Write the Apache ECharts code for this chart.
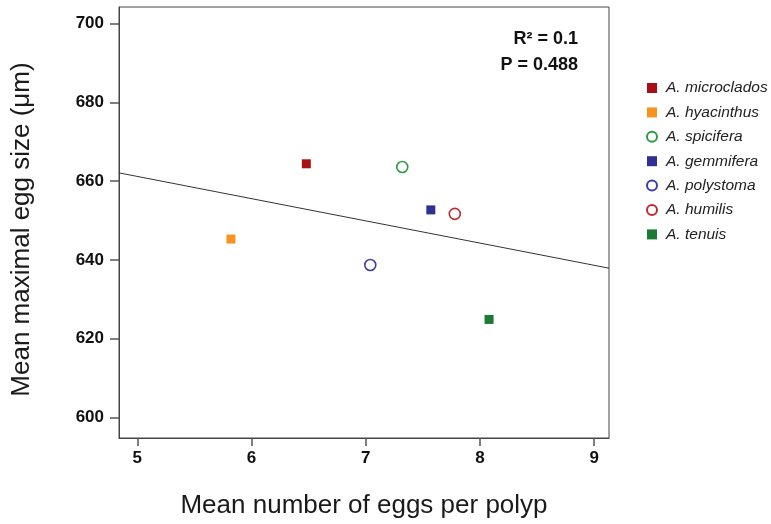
<!DOCTYPE html>
<html>
<head>
<meta charset="utf-8">
<script src="https://cdn.jsdelivr.net/npm/echarts@6/dist/echarts.min.js"></script>
<style>
  html, body { margin: 0; padding: 0; background: #fff; }
  #chart { width: 771px; height: 524px; }
</style>
</head>
<body>
<div id="chart"></div>
<script>
// species
const species = ['A. microclados', 'A. hyacinthus', 'A. spicifera', 'A. gemmifera', 'A. polystoma', 'A. humilis', 'A. tenuis'];
const eggsPerPolyp = [6.48, 5.82, 7.32, 7.57, 7.04, 7.78, 8.08];
const eggSize = [664.4, 645.3, 663.6, 652.7, 638.7, 651.7, 624.9];
const filled = [true, true, false, true, false, false, true];
const colors = ['#a50f15', '#f7931e', '#2f9a45', '#2e3192', '#3b40a8', '#be2a2e', '#1b7a34'];

// regression line ends
const fitX = [4.84, 9.13];
const fitY = [662.1, 637.9];

const xTicks = [5, 6, 7, 8, 9];
const yTicks = [600, 620, 640, 660, 680, 700];

const chart = echarts.init(document.getElementById('chart'));

const series = species.map((name, i) => ({
  name,
  type: 'scatter',
  symbol: filled[i] ? 'rect' : 'circle',
  symbolSize: filled[i] ? 9 : 11,
  itemStyle: filled[i]
    ? { color: colors[i], opacity: 1 }
    : { color: '#fff', borderColor: colors[i], borderWidth: 1.6, opacity: 1 },
  data: [[eggsPerPolyp[i], eggSize[i]]],
  z: 3
}));

series.push({
  name: 'fit',
  type: 'line',
  symbol: 'none',
  lineStyle: { color: '#333', width: 1 },
  data: fitX.map((x, i) => [x, fitY[i]]),
  silent: true,
  z: 2
});

chart.setOption({
  animation: false,
  textStyle: { fontFamily: 'Liberation Sans, Arial, sans-serif' },
  grid: {
    left: 119, top: 7, right: 162, bottom: 86,
    show: true, borderColor: '#444', borderWidth: 1
  },
  xAxis: {
    type: 'value',
    min: 4.84, max: 9.13,
    name: 'Mean number of eggs per polyp',
    nameLocation: 'middle',
    nameGap: 55,
    nameTextStyle: { fontSize: 26, color: '#1a1a1a' },
    axisLine: { show: true, lineStyle: { color: '#444' } },
    axisTick: { show: true, length: 8, customValues: xTicks, lineStyle: { color: '#555', width: 1.5 } },
    axisLabel: {
      customValues: xTicks, fontSize: 17, fontWeight: 'bold', color: '#111', margin: 12
    },
    splitLine: { show: false }
  },
  yAxis: {
    type: 'value',
    min: 594.8, max: 704.2,
    name: 'Mean maximal egg size (μm)',
    nameLocation: 'middle',
    nameRotate: 90,
    nameGap: 84,
    nameTextStyle: { fontSize: 26, color: '#1a1a1a', padding: [0, 14, 0, 0] },
    axisLine: { show: true, lineStyle: { color: '#444' } },
    axisTick: { show: true, length: 9, customValues: yTicks, lineStyle: { color: '#555', width: 1.5 } },
    axisLabel: {
      customValues: yTicks, fontSize: 17, fontWeight: 'bold', color: '#111', margin: 15
    },
    splitLine: { show: false }
  },
  legend: {
    data: species,
    orient: 'vertical',
    left: 641,
    top: 75,
    itemWidth: 10,
    itemHeight: 10,
    itemGap: 8.4,
    textStyle: { fontSize: 15.5, fontStyle: 'italic', color: '#222', padding: [0, 0, 0, 4] }
  },
  graphic: [
    {
      type: 'text', right: 193, top: 30,
      style: { text: 'R² = 0.1', font: 'bold 18px Liberation Sans, Arial, sans-serif', fill: '#111' }
    },
    {
      type: 'text', right: 193, top: 56,
      style: { text: 'P = 0.488', font: 'bold 18px Liberation Sans, Arial, sans-serif', fill: '#111' }
    }
  ],
  series
});
</script>
</body>
</html>
